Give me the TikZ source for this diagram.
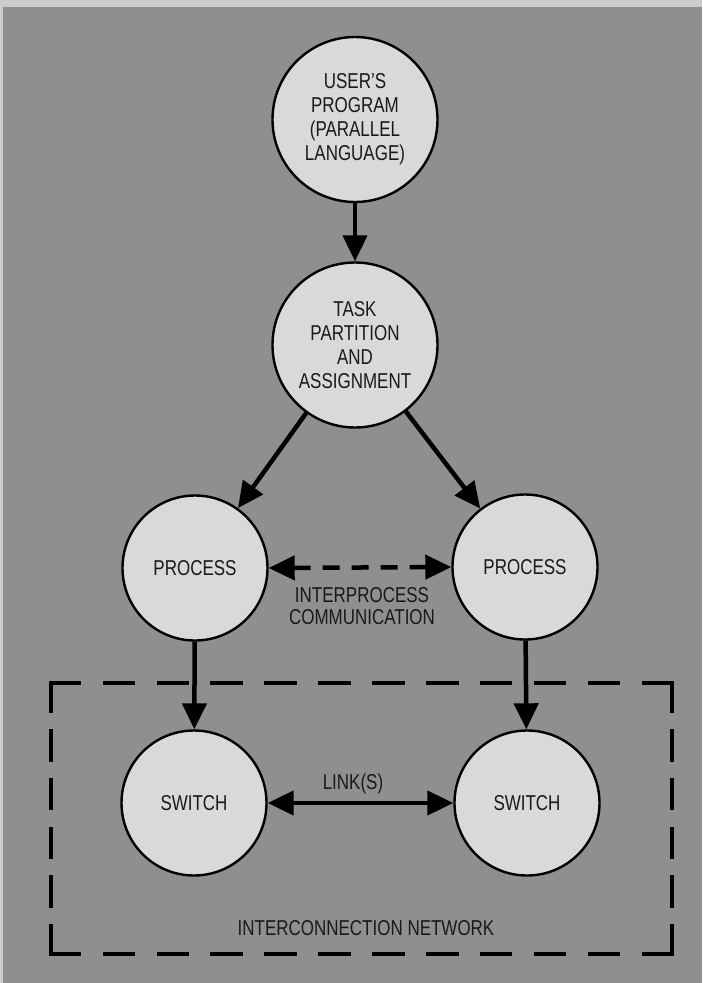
\documentclass[tikz,border=0pt]{standalone}
\usepackage{fontspec}
\setmainfont[FakeStretch=0.79]{Liberation Sans}
\usetikzlibrary{arrows.meta}
\definecolor{paper}{gray}{0.80}
\definecolor{screen}{gray}{0.56}
\definecolor{disc}{gray}{0.85}
\definecolor{ink}{gray}{0.10}

\begin{document}
\begin{tikzpicture}[x=1pt,y=-1pt,
  bubble/.style={circle, draw=black, line width=2.4pt, fill=disc, inner sep=0pt,
    align=center, text=ink, font=\fontsize{21.5}{24}\selectfont},
  caption/.style={align=center, text=ink, inner sep=0pt, font=\fontsize{21.5}{22.5}\selectfont},
  tip/.style={Triangle[length=26pt,width=24pt]},
  flow/.style={line width=4.5pt, -{Triangle[length=26pt,width=24pt]}},
  twoway/.style={line width=4.5pt, {Triangle[length=26pt,width=24pt]}-{Triangle[length=26pt,width=24pt]}},
  netedge/.style={line width=4.5pt, line cap=rect}
]
% page and halftone ground
\fill[paper] (0,0) rectangle (702,983);
\fill[screen] (3,7) rectangle (702,983);
\useasboundingbox (0,0) rectangle (702,983);

% nodes
\node[bubble, minimum size=165pt] (user) at (355,119.5) {USER’S\\PROGRAM\\(PARALLEL\\LANGUAGE)};
\node[bubble, minimum size=165pt] (task) at (355,345) {TASK\\PARTITION\\AND\\ASSIGNMENT};
\node[bubble, minimum size=145pt] (procL) at (195,568) {PROCESS};
\node[bubble, minimum size=145pt] (procR) at (525,567) {PROCESS};
\node[bubble, minimum size=145pt] (swL) at (194,803) {SWITCH};
\node[bubble, minimum size=145pt] (swR) at (527,803) {SWITCH};

% labels
\node[caption] (ipc) at (362,606) {INTERPROCESS\\COMMUNICATION};
\node[caption] (links) at (353,784) {LINK(S)};
\node[caption] (netname) at (366,928) {INTERCONNECTION NETWORK};

% interconnection network boundary
\coordinate (nw) at (51,683);
\coordinate (ne) at (672,683);
\coordinate (se) at (672,954);
\coordinate (sw) at (51,954);
\draw[netedge, dash pattern=on 28pt off 25.9pt] (nw) -- (ne);
\draw[netedge, dash pattern=on 28pt off 25.9pt] (sw) -- (se);
\draw[netedge, dash pattern=on 28pt off 20.6pt] (nw) -- (sw);
\draw[netedge, dash pattern=on 28pt off 20.6pt] (ne) -- (se);

% connectors
\draw[flow] (user) -- (task);
\draw[flow] (task) -- (procL);
\draw[flow] (task) -- (procR);
\draw[twoway, dash pattern=on 17pt off 12pt] (procL.east) -- (procR.west);
\draw[flow] (procL) -- (swL);
\draw[flow] (procR) -- (swR);
\draw[twoway] (swL) -- (swR);
\end{tikzpicture}
\end{document}
